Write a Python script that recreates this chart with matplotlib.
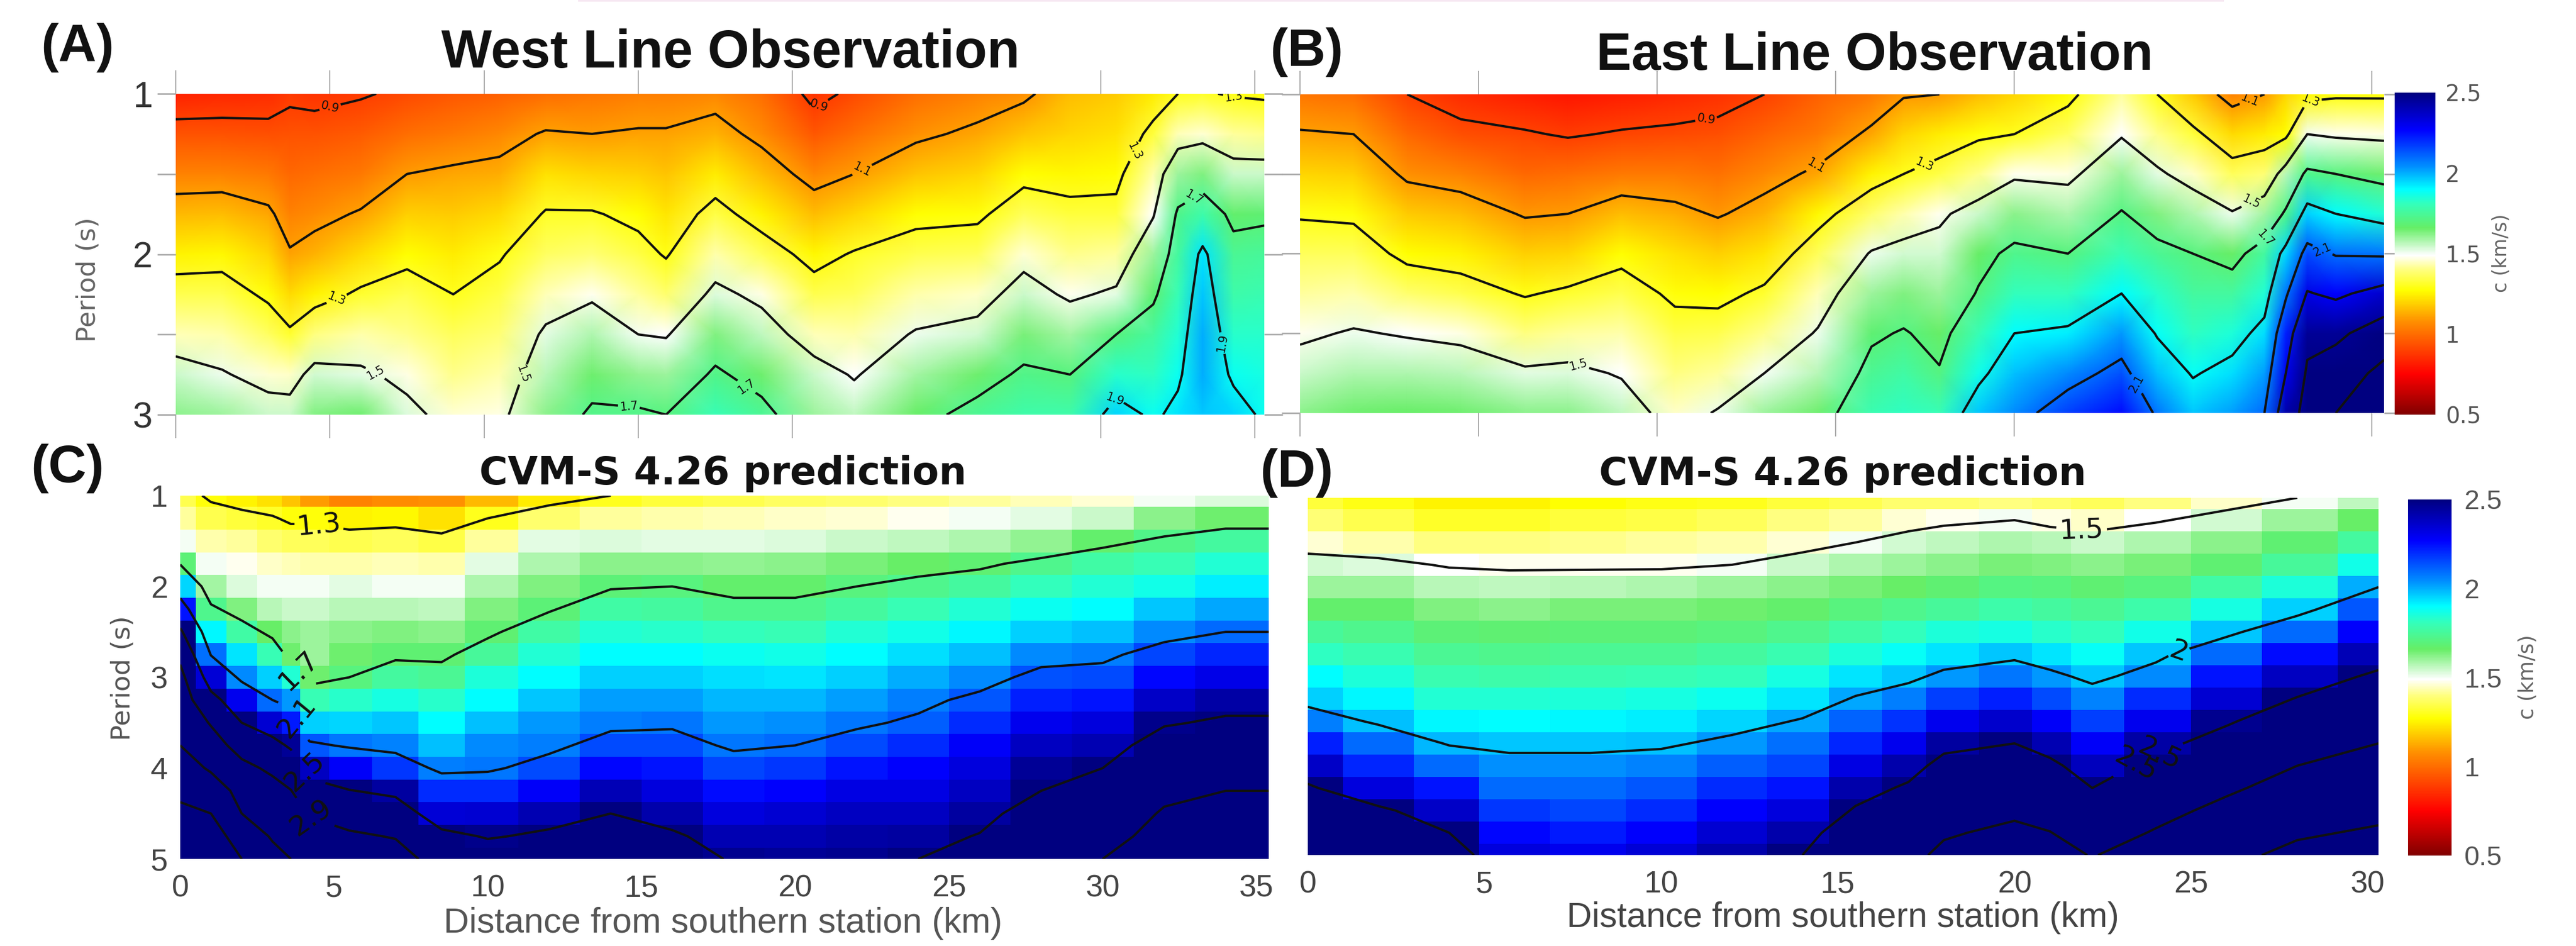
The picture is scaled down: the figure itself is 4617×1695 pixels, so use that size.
import numpy as np
import matplotlib
matplotlib.use("Agg")
import matplotlib.pyplot as plt
from matplotlib.colors import LinearSegmentedColormap, Normalize
from matplotlib.cm import ScalarMappable
from matplotlib.patches import Rectangle

W, H = 4617, 1695
SANS = "Liberation Sans"

# ---------- data (rows of each list = one distance column, values c in km/s by period) ----------
west_period = [1, 1.25, 1.5, 1.75, 2, 2.25, 2.5, 2.75, 3]
west_dist = [0, 1.5, 3, 3.7, 4.5, 6, 7.5, 9, 10.5, 12, 13.5, 15, 15.9, 17.5, 19, 20.7, 22, 24, 26, 27.5, 29,
             30.5, 31.7, 32.5, 33.3, 34.3, 35.3]
west_c = [
    [.83, .94, 1.05, 1.15, 1.25, 1.35, 1.44, 1.55, 1.62],
    [.84, .94, 1.05, 1.16, 1.26, 1.35, 1.43, 1.51, 1.60],
    [.85, .93, 1.03, 1.12, 1.20, 1.28, 1.37, 1.46, 1.55],
    [.88, .94, .99, 1.05, 1.11, 1.21, 1.32, 1.45, 1.55],
    [.87, .94, 1.00, 1.07, 1.14, 1.25, 1.40, 1.54, 1.63],
    [.89, .96, 1.03, 1.11, 1.21, 1.32, 1.43, 1.52, 1.65],
    [.92, 1.00, 1.10, 1.19, 1.27, 1.35, 1.41, 1.47, 1.53],
    [.95, 1.03, 1.12, 1.18, 1.24, 1.30, 1.36, 1.41, 1.46],
    [.97, 1.06, 1.13, 1.21, 1.29, 1.34, 1.39, 1.43, 1.47],
    [1.00, 1.11, 1.22, 1.31, 1.37, 1.44, 1.52, 1.57, 1.62],
    [1.02, 1.10, 1.20, 1.31, 1.39, 1.48, 1.58, 1.65, 1.72],
    [1.04, 1.11, 1.19, 1.27, 1.34, 1.42, 1.50, 1.61, 1.72],
    [1.04, 1.11, 1.17, 1.23, 1.29, 1.38, 1.49, 1.60, 1.70],
    [1.06, 1.14, 1.24, 1.34, 1.43, 1.53, 1.63, 1.72, 1.80],
    [1.00, 1.07, 1.16, 1.25, 1.36, 1.47, 1.56, 1.65, 1.74],
    [.87, .95, 1.06, 1.16, 1.26, 1.35, 1.44, 1.55, 1.60],
    [.92, 1.00, 1.10, 1.20, 1.31, 1.36, 1.43, 1.49, 1.56],
    [1.00, 1.08, 1.17, 1.27, 1.35, 1.43, 1.51, 1.59, 1.66],
    [1.05, 1.12, 1.20, 1.28, 1.36, 1.45, 1.54, 1.65, 1.74],
    [1.08, 1.17, 1.27, 1.36, 1.46, 1.55, 1.64, 1.72, 1.78],
    [1.16, 1.20, 1.26, 1.33, 1.41, 1.48, 1.59, 1.70, 1.78],
    [1.18, 1.22, 1.27, 1.33, 1.42, 1.52, 1.70, 1.83, 1.95],
    [1.24, 1.33, 1.43, 1.49, 1.60, 1.68, 1.76, 1.82, 1.88],
    [1.30, 1.44, 1.60, 1.72, 1.76, 1.80, 1.84, 1.88, 1.93],
    [1.31, 1.46, 1.63, 1.78, 1.93, 1.97, 2.00, 2.00, 1.97],
    [1.29, 1.42, 1.55, 1.67, 1.74, 1.78, 1.83, 1.88, 1.95],
    [1.28, 1.41, 1.55, 1.68, 1.75, 1.79, 1.83, 1.86, 1.88],
]

east_period = [1, 1.25, 1.5, 1.75, 2, 2.25, 2.5, 2.75, 3]
east_dist = [0, 1.5, 3, 4.5, 6.3, 7.5, 9, 10.5, 11.7, 13, 14.5, 16, 16.9, 17.9, 19, 20, 21.5, 23, 24, 25, 26.1,
             27, 27.6, 28.2, 29, 30.35]
east_c = [
    [1.02, 1.11, 1.20, 1.29, 1.36, 1.42, 1.48, 1.55, 1.62],
    [1.00, 1.10, 1.19, 1.28, 1.36, 1.43, 1.51, 1.58, 1.65],
    [.90, .99, 1.08, 1.18, 1.27, 1.38, 1.49, 1.58, 1.66],
    [.85, .93, 1.05, 1.16, 1.25, 1.35, 1.47, 1.57, 1.65],
    [.82, .91, .99, 1.09, 1.19, 1.29, 1.40, 1.52, 1.62],
    [.80, .89, 1.00, 1.10, 1.20, 1.32, 1.42, 1.53, 1.62],
    [.82, .91, 1.03, 1.16, 1.27, 1.35, 1.43, 1.49, 1.56],
    [.84, .92, 1.03, 1.13, 1.22, 1.28, 1.34, 1.40, 1.45],
    [.86, .93, 1.01, 1.09, 1.19, 1.27, 1.35, 1.42, 1.51],
    [.90, .98, 1.06, 1.14, 1.23, 1.32, 1.41, 1.50, 1.60],
    [.97, 1.03, 1.12, 1.26, 1.36, 1.44, 1.51, 1.57, 1.65],
    [1.03, 1.12, 1.25, 1.38, 1.51, 1.60, 1.68, 1.74, 1.79],
    [1.09, 1.20, 1.30, 1.43, 1.54, 1.63, 1.71, 1.77, 1.82],
    [1.10, 1.24, 1.34, 1.48, 1.54, 1.60, 1.66, 1.71, 1.80],
    [1.16, 1.28, 1.41, 1.55, 1.66, 1.71, 1.80, 1.87, 1.97],
    [1.20, 1.30, 1.48, 1.62, 1.73, 1.81, 1.90, 1.98, 2.05],
    [1.27, 1.37, 1.47, 1.58, 1.70, 1.81, 1.92, 2.05, 2.17],
    [1.42, 1.49, 1.60, 1.71, 1.80, 1.90, 2.03, 2.14, 2.25],
    [1.30, 1.41, 1.52, 1.63, 1.74, 1.83, 1.89, 1.98, 2.08],
    [1.18, 1.33, 1.45, 1.58, 1.70, 1.76, 1.82, 1.89, 1.97],
    [1.05, 1.21, 1.36, 1.51, 1.66, 1.76, 1.85, 1.94, 2.02],
    [1.10, 1.24, 1.39, 1.59, 1.76, 1.84, 1.94, 2.02, 2.10],
    [1.20, 1.27, 1.57, 1.72, 1.95, 2.08, 2.22, 2.30, 2.42],
    [1.26, 1.50, 1.73, 1.96, 2.15, 2.31, 2.46, 2.52, 2.55],
    [1.28, 1.48, 1.70, 1.90, 2.09, 2.27, 2.46, 2.60, 2.70],
    [1.28, 1.47, 1.65, 1.84, 2.08, 2.36, 2.60, 2.75, 2.85],
]

cvm_west_period = [1, 1.25, 1.5, 1.75, 2, 2.25, 2.5, 2.75, 3, 3.25, 3.5, 3.75, 4, 4.25, 4.5, 4.75, 5]
cvm_west_dist = [0, 1, 2, 3, 3.6, 4.2, 5.5, 7, 8.5, 10, 12, 14, 16, 18, 20, 22, 24, 26, 28, 30, 32, 34, 35.4]
cvm_west_c = [
    [1.35, 1.42, 1.50, 1.69, 1.95, 2.24, 2.55, 2.82, 3.00, 3.10, 3.20, 3.30, 3.45, 3.60, 3.80, 3.90, 4.10],
    [1.28, 1.35, 1.43, 1.50, 1.59, 1.73, 1.91, 2.09, 2.34, 2.60, 2.87, 3.07, 3.26, 3.47, 3.70, 3.90, 4.10],
    [1.25, 1.33, 1.42, 1.48, 1.53, 1.63, 1.77, 1.93, 2.05, 2.30, 2.50, 2.75, 3.00, 3.20, 3.30, 3.50, 3.70],
    [1.22, 1.31, 1.38, 1.45, 1.50, 1.57, 1.66, 1.80, 1.96, 2.10, 2.35, 2.59, 2.83, 3.03, 3.17, 3.27, 3.40],
    [1.17, 1.28, 1.36, 1.44, 1.50, 1.55, 1.62, 1.65, 1.84, 2.03, 2.23, 2.46, 2.68, 2.91, 3.04, 3.17, 3.30],
    [1.10, 1.28, 1.36, 1.43, 1.50, 1.55, 1.60, 1.60, 1.65, 1.80, 1.96, 2.13, 2.38, 2.64, 2.88, 3.00, 3.10],
    [1.05, 1.25, 1.35, 1.43, 1.52, 1.57, 1.62, 1.65, 1.70, 1.83, 1.95, 2.08, 2.28, 2.51, 2.75, 2.95, 3.05],
    [1.07, 1.26, 1.36, 1.44, 1.50, 1.57, 1.63, 1.68, 1.76, 1.86, 1.97, 2.06, 2.18, 2.44, 2.66, 2.88, 3.05],
    [1.08, 1.22, 1.34, 1.43, 1.50, 1.56, 1.62, 1.68, 1.74, 1.83, 1.90, 1.98, 2.07, 2.20, 2.34, 2.57, 2.75],
    [1.15, 1.30, 1.42, 1.52, 1.58, 1.63, 1.68, 1.75, 1.85, 1.90, 1.98, 2.05, 2.08, 2.20, 2.35, 2.48, 2.65],
    [1.24, 1.38, 1.52, 1.58, 1.63, 1.69, 1.77, 1.84, 1.90, 1.97, 2.03, 2.07, 2.15, 2.28, 2.41, 2.54, 2.65],
    [1.30, 1.42, 1.53, 1.62, 1.69, 1.77, 1.84, 1.90, 1.96, 2.02, 2.07, 2.15, 2.26, 2.40, 2.50, 2.60, 2.70],
    [1.33, 1.43, 1.52, 1.62, 1.70, 1.76, 1.83, 1.90, 1.96, 2.02, 2.08, 2.15, 2.24, 2.33, 2.42, 2.53, 2.65],
    [1.35, 1.44, 1.52, 1.61, 1.67, 1.73, 1.81, 1.88, 1.94, 1.99, 2.03, 2.08, 2.16, 2.25, 2.33, 2.41, 2.47],
    [1.37, 1.45, 1.53, 1.62, 1.67, 1.73, 1.80, 1.87, 1.93, 1.99, 2.04, 2.10, 2.18, 2.27, 2.35, 2.41, 2.46],
    [1.38, 1.46, 1.55, 1.64, 1.70, 1.76, 1.84, 1.90, 1.96, 2.02, 2.08, 2.15, 2.24, 2.32, 2.38, 2.43, 2.47],
    [1.40, 1.48, 1.56, 1.66, 1.73, 1.80, 1.87, 1.94, 2.00, 2.07, 2.12, 2.20, 2.27, 2.32, 2.38, 2.44, 2.50],
    [1.42, 1.50, 1.58, 1.68, 1.76, 1.84, 1.91, 1.98, 2.05, 2.13, 2.20, 2.28, 2.33, 2.38, 2.44, 2.51, 2.58],
    [1.44, 1.52, 1.61, 1.73, 1.81, 1.88, 1.96, 2.05, 2.14, 2.22, 2.30, 2.38, 2.46, 2.50, 2.60, 2.70, 2.75],
    [1.46, 1.55, 1.67, 1.77, 1.84, 1.90, 1.98, 2.07, 2.15, 2.24, 2.33, 2.41, 2.50, 2.60, 2.70, 2.80, 2.90],
    [1.50, 1.62, 1.72, 1.80, 1.87, 1.97, 2.05, 2.16, 2.26, 2.37, 2.48, 2.60, 2.72, 2.83, 2.93, 3.00, 3.10],
    [1.53, 1.65, 1.76, 1.84, 1.92, 2.01, 2.10, 2.21, 2.31, 2.43, 2.53, 2.65, 2.77, 2.90, 3.00, 3.10, 3.20],
    [1.53, 1.65, 1.76, 1.84, 1.92, 2.01, 2.10, 2.21, 2.31, 2.43, 2.53, 2.65, 2.77, 2.90, 3.00, 3.10, 3.20],
]

cvm_east_period = [1, 1.25, 1.5, 1.75, 2, 2.25, 2.5, 2.75, 3, 3.25, 3.5, 3.75, 4, 4.25, 4.5, 4.75, 5]
cvm_east_dist = [0, 2, 4, 5.7, 8, 10, 12, 14, 15.5, 17, 18, 20, 21, 22.2, 24, 26, 28, 30.3]
cvm_east_c = [
    [1.33, 1.39, 1.46, 1.54, 1.60, 1.67, 1.75, 1.82, 1.90, 1.96, 2.07, 2.22, 2.37, 2.53, 2.70, 2.88, 3.00],
    [1.29, 1.35, 1.43, 1.53, 1.60, 1.67, 1.73, 1.79, 1.85, 1.91, 1.98, 2.10, 2.21, 2.33, 2.54, 2.68, 2.82],
    [1.25, 1.31, 1.40, 1.49, 1.57, 1.63, 1.69, 1.74, 1.79, 1.84, 1.91, 1.99, 2.10, 2.24, 2.37, 2.50, 2.62],
    [1.25, 1.31, 1.40, 1.48, 1.56, 1.62, 1.68, 1.73, 1.78, 1.84, 1.90, 1.97, 2.04, 2.10, 2.18, 2.26, 2.33],
    [1.27, 1.33, 1.41, 1.48, 1.57, 1.64, 1.69, 1.74, 1.79, 1.85, 1.91, 1.97, 2.04, 2.10, 2.16, 2.23, 2.30],
    [1.29, 1.34, 1.42, 1.48, 1.58, 1.64, 1.69, 1.74, 1.80, 1.86, 1.92, 1.98, 2.06, 2.13, 2.20, 2.27, 2.34],
    [1.30, 1.36, 1.43, 1.50, 1.60, 1.65, 1.70, 1.76, 1.81, 1.88, 1.95, 2.03, 2.12, 2.20, 2.27, 2.35, 2.42],
    [1.33, 1.40, 1.46, 1.55, 1.62, 1.67, 1.73, 1.79, 1.86, 1.93, 2.01, 2.09, 2.16, 2.24, 2.33, 2.42, 2.50],
    [1.35, 1.42, 1.50, 1.58, 1.64, 1.70, 1.77, 1.85, 1.93, 2.01, 2.11, 2.21, 2.32, 2.42, 2.52, 2.64, 2.74],
    [1.38, 1.46, 1.54, 1.60, 1.66, 1.73, 1.81, 1.89, 1.97, 2.07, 2.19, 2.30, 2.42, 2.53, 2.65, 2.78, 2.90],
    [1.38, 1.48, 1.56, 1.62, 1.68, 1.75, 1.85, 1.93, 2.03, 2.17, 2.30, 2.44, 2.57, 2.70, 2.82, 2.96, 3.08],
    [1.40, 1.50, 1.58, 1.64, 1.71, 1.78, 1.86, 1.97, 2.08, 2.22, 2.36, 2.50, 2.64, 2.78, 2.93, 3.08, 3.22],
    [1.38, 1.47, 1.57, 1.63, 1.70, 1.76, 1.83, 1.93, 2.03, 2.15, 2.28, 2.41, 2.55, 2.70, 2.85, 3.01, 3.15],
    [1.36, 1.45, 1.55, 1.62, 1.68, 1.74, 1.81, 1.89, 1.97, 2.06, 2.17, 2.28, 2.39, 2.50, 2.66, 2.82, 2.98],
    [1.40, 1.49, 1.58, 1.64, 1.70, 1.78, 1.87, 1.97, 2.05, 2.20, 2.30, 2.43, 2.56, 2.72, 2.88, 3.03, 3.20],
    [1.45, 1.54, 1.62, 1.68, 1.77, 1.86, 1.97, 2.10, 2.24, 2.35, 2.47, 2.61, 2.77, 2.94, 3.10, 3.27, 3.40],
    [1.50, 1.60, 1.68, 1.75, 1.85, 1.96, 2.10, 2.25, 2.38, 2.51, 2.66, 2.82, 3.00, 3.15, 3.30, 3.45, 3.60],
    [1.56, 1.66, 1.76, 1.87, 2.00, 2.13, 2.27, 2.40, 2.54, 2.69, 2.84, 3.00, 3.13, 3.26, 3.40, 3.55, 3.70],
]

west_levels = [0.9, 1.1, 1.3, 1.5, 1.7, 1.9]
east_levels = [0.9, 1.1, 1.3, 1.5, 1.7, 1.9, 2.1, 2.3, 2.5, 2.7]
cvm_west_levels = [1.3, 1.7, 2.1, 2.5, 2.9, 3.3, 3.7]
cvm_east_levels = [1.5, 2.0, 2.5, 3.0, 3.5]

cbar_ticks = [0.5, 1, 1.5, 2, 2.5]
cbar_labels = ["0.5", "1", "1.5", "2", "2.5"]
obs_xticks = [0, 5, 10, 15, 20, 30, 35]
obs_xticks_east = [0, 5, 10, 15, 20, 30]

# ---------- style ----------
cmap = LinearSegmentedColormap.from_list("vel", [
    (0.0, "#800000"), (0.125, "#ff0000"), (0.29, "#ff9000"), (0.385, "#ffff00"), (0.45, "#ffff80"),
    (0.495, "#ffffff"), (0.58, "#66ee66"), (0.655, "#33ffbb"), (0.70, "#00ffff"), (0.77, "#0090ff"),
    (0.885, "#0000ff"), (1.0, "#000080")], N=512)
norm = Normalize(0.5, 2.5)

fig = plt.figure(figsize=(W / 100, H / 100), dpi=100, facecolor="white")


def axpx(l, t, r, b):
    return fig.add_axes([l / W, 1 - b / H, (r - l) / W, (b - t) / H])


def tpx(x, y, s, **kw):
    kw.setdefault("ha", "center")
    kw.setdefault("va", "center")
    fig.text(x / W, 1 - y / H, s, **kw)


def field(ax, dist, period, c, levels, shading, lw, color, fs, manual):
    Z = np.array(c).T
    ax.pcolormesh(dist, period, Z, cmap=cmap, norm=norm, shading=shading, rasterized=True)
    cs = ax.contour(dist, period, Z, levels=levels, colors=color, linewidths=lw)
    ax.clabel(cs, manual=manual, fmt="%g", fontsize=fs, inline=True, inline_spacing=3)
    ax.set_xlim(dist[0], dist[-1])
    ax.set_ylim(period[-1], period[0])
    for s in ax.spines.values():
        s.set_visible(False)


def obs_axes(ax, xticks, right):
    ax.set_xticks(xticks)
    ax.set_xticklabels([])
    ax.set_yticks([1, 1.5, 2, 2.5, 3])
    ax.set_yticklabels(["1", "", "2", "", "3"] if not right else [""] * 5, fontsize=46, family=SANS, color="#333333")
    ax.tick_params(axis="x", which="major", direction="out", length=30, width=1.5, color="#aaaaaa", top=True,
                   bottom=True)
    ax.tick_params(axis="y", which="major", direction="out", length=24, width=2, color="#aaaaaa", pad=6,
                   left=True, right=True)


def cvm_axes(ax, dist_ticks, pad):
    ax.set_xticks(dist_ticks)
    ax.set_xticklabels([str(t) for t in dist_ticks], fontsize=40, family=SANS, color="#444444")
    ax.tick_params(axis="both", length=0)
    ax.tick_params(axis="x", pad=pad)
    ax.tick_params(axis="y", pad=16)


# Panel A
axA = axpx(315, 168, 2266, 743)
field(axA, west_dist, west_period, west_c, west_levels, "gouraud", 3.0, "#111111", 15,
      [(5.0, 1.08), (21, 1.12), (22.3, 1.49), (5.2, 2.27), (31.2, 1.37), (34.3, 1.04), (6.4, 2.77), (11.4, 2.76),
       (14.7, 2.94), (18.6, 2.8), (33, 1.64), (30.3, 2.88), (33.5, 2.57)])
obs_axes(axA, obs_xticks, False)

# Panel B
axB = axpx(2330, 169, 4273, 740)
field(axB, east_dist, east_period, east_c, east_levels, "gouraud", 3.0, "#111111", 15,
      [(11.4, 1.2), (14.4, 1.43), (17.5, 1.45), (28.3, 1.04), (7.8, 2.7), (26.6, 1.66), (27.2, 1.93), (28.6, 1.99),
       (26.6, 1.04), (23, 2.87)])
obs_axes(axB, obs_xticks_east, True)

# Panel C
axC = axpx(323, 888, 2274, 1539)
field(axC, cvm_west_dist, cvm_west_period, cvm_west_c, cvm_west_levels, "nearest", 3.0, "#111111", 36,
      [(4.5, 1.36), (4.0, 2.88), (3.7, 3.46), (4.1, 4.03), (4.3, 4.5)])
cvm_axes(axC, [0, 5, 10, 15, 20, 25, 30, 35], 20)
axC.set_yticks([1, 2, 3, 4, 5])
axC.set_yticklabels(["1", "2", "3", "4", "5"], fontsize=40, family=SANS, color="#444444")

# Panel D
axD = axpx(2344, 892, 4263, 1532)
field(axD, cvm_east_dist, cvm_east_period, cvm_east_c, cvm_east_levels, "nearest", 3.0, "#111111", 36,
      [(21.9, 1.36), (24.7, 2.79), (24.1, 3.86), (23.6, 4.13)])
cvm_axes(axD, [0, 5, 10, 15, 20, 25, 30], 20)
axD.set_yticks([])

# Colour bars
for box, fs, pad, fam in (((4292, 166, 4365, 743), 29, 13, "DejaVu Sans"),
                          ((4316, 895, 4394, 1533), 35, 16, SANS)):
    cax = axpx(*box)
    cb = fig.colorbar(ScalarMappable(norm=norm, cmap=cmap), cax=cax)
    cb.set_ticks(cbar_ticks)
    cb.set_ticklabels(cbar_labels)
    cb.outline.set_visible(False)
    cax.tick_params(length=0, pad=pad, labelsize=fs, labelcolor="#555555")
    for lab in cax.get_yticklabels():
        lab.set_family(fam)

# Text
tpx(139, 85, "(A)", fontsize=68, fontweight="bold", family=SANS, color="#111111")
tpx(2342, 93, "(B)", fontsize=68, fontweight="bold", family=SANS, color="#111111")
tpx(121, 840, "(C)", fontsize=68, fontweight="bold", family=SANS, color="#111111")
tpx(2324, 848, "(D)", fontsize=68, fontweight="bold", family=SANS, color="#111111")
tpx(1309, 96, "West Line Observation", fontsize=69, fontweight="bold", family=SANS, color="#111111")
tpx(3360, 100, "East Line Observation", fontsize=68, fontweight="bold", family=SANS, color="#111111")
tpx(1296, 848, "CVM-S 4.26 prediction", fontsize=50, fontweight="bold", family="DejaVu Sans", color="#111111")
tpx(3303, 850, "CVM-S 4.26 prediction", fontsize=50, fontweight="bold", family="DejaVu Sans", color="#111111")
tpx(158, 501, "Period (s)", fontsize=34, rotation=90, color="#666666", family="DejaVu Sans")
tpx(220, 1215, "Period (s)", fontsize=34, rotation=90, color="#555555", family="DejaVu Sans")
tpx(1296, 1655, "Distance from southern station (km)", fontsize=45.5, family=SANS, color="#555555")
tpx(3303, 1645, "Distance from southern station (km)", fontsize=45, family=SANS, color="#444444")
tpx(4483, 454, "c (km/s)", fontsize=25, rotation=90, color="#666666", family="DejaVu Sans")
tpx(4530, 1213, "c (km/s)", fontsize=27, rotation=90, color="#666666", family="DejaVu Sans")
fig.add_artist(Rectangle((1036 / W, 1 - 3 / H), (3986 - 1036) / W, 3 / H, transform=fig.transFigure,
                         facecolor="#f6e8f2", edgecolor="none"))

fig.savefig("out.png", dpi=100)
